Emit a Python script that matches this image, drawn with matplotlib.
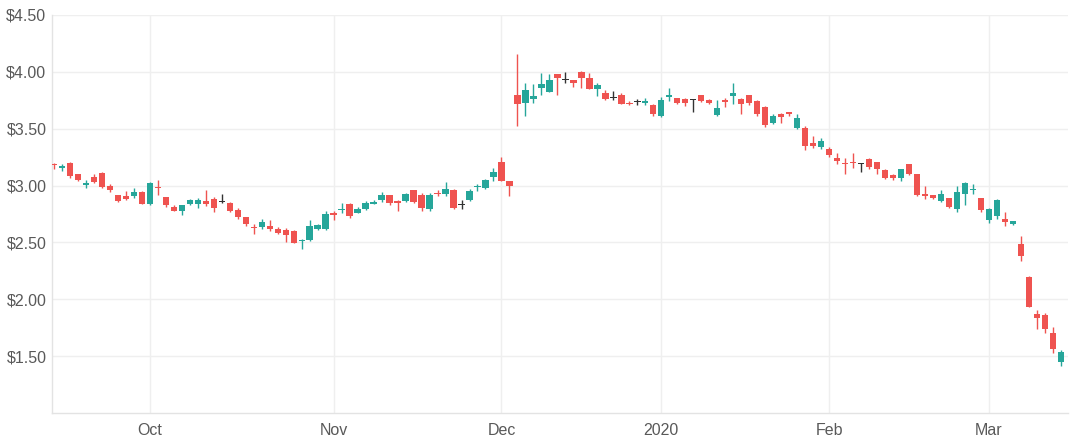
import matplotlib
matplotlib.use("Agg")
import matplotlib.pyplot as plt
import numpy as np

opens = [3.19, 3.155, 3.20, 3.10, 3.005, 3.075, 3.11, 3.00, 2.92, 2.905,
         2.905, 2.94, 2.84, 2.99, 2.90, 2.81, 2.775, 2.835, 2.835, 2.86,
         2.88, 2.857, 2.85, 2.785, 2.72, 2.635, 2.637, 2.648, 2.62, 2.605,
         2.60, 2.51, 2.52, 2.615, 2.62, 2.763, 2.783, 2.84, 2.76, 2.79,
         2.842, 2.872, 2.915, 2.862, 2.862, 2.959, 2.92, 2.79, 2.935, 2.927,
         2.965, 2.833, 2.871, 2.986, 2.98, 3.074, 3.206, 3.04, 3.797, 3.73,
         3.76, 3.862, 3.827, 3.98, 3.935, 3.927, 4.0, 3.95, 3.853, 3.818,
         3.774, 3.794, 3.73, 3.738, 3.73, 3.706, 3.613, 3.783, 3.768, 3.765,
         3.76, 3.798, 3.75, 3.621, 3.75, 3.79, 3.76, 3.798, 3.745, 3.695,
         3.554, 3.627, 3.648, 3.51, 3.51, 3.377, 3.342, 3.324, 3.245, 3.201,
         3.207, 3.196, 3.236, 3.21, 3.136, 3.09, 3.07, 3.186, 3.098, 2.93,
         2.913, 2.863, 2.892, 2.795, 2.922, 2.957, 2.892, 2.695, 2.736, 2.707,
         2.666, 2.49, 2.195, 1.872, 1.863, 1.70, 1.452]
highs = [3.20, 3.186, 3.206, 3.106, 3.053, 3.106, 3.115, 3.01, 2.921, 2.95,
         2.98, 2.95, 3.03, 3.05, 2.90, 2.825, 2.833, 2.88, 2.892, 2.96,
         2.90, 2.93, 2.857, 2.80, 2.722, 2.66, 2.705, 2.70, 2.636, 2.63,
         2.605, 2.53, 2.70, 2.665, 2.775, 2.775, 2.85, 2.848, 2.81, 2.862,
         2.877, 2.94, 2.92, 2.877, 2.936, 2.965, 2.935, 2.935, 2.965, 3.03,
         2.97, 2.871, 2.97, 3.01, 3.06, 3.156, 3.25, 3.04, 4.156, 3.906,
         3.89, 3.994, 3.98, 3.98, 4.0, 3.927, 4.009, 3.994, 3.906, 3.838,
         3.832, 3.818, 3.745, 3.765, 3.774, 3.715, 3.78, 3.856, 3.774, 3.774,
         3.765, 3.80, 3.76, 3.75, 3.768, 3.906, 3.768, 3.80, 3.75, 3.70,
         3.627, 3.642, 3.651, 3.633, 3.524, 3.436, 3.42, 3.339, 3.283, 3.245,
         3.283, 3.20, 3.245, 3.21, 3.148, 3.098, 3.148, 3.186, 3.098, 2.995,
         2.92, 2.96, 2.892, 3.0, 3.03, 3.01, 2.892, 2.80, 2.883, 2.766,
         2.69, 2.554, 2.207, 1.907, 1.878, 1.76, 1.555]
lows = [3.15, 3.127, 3.068, 3.04, 2.98, 3.024, 2.98, 2.94, 2.855, 2.877,
        2.89, 2.838, 2.83, 2.92, 2.81, 2.774, 2.74, 2.833, 2.80, 2.82,
        2.77, 2.85, 2.766, 2.71, 2.648, 2.57, 2.62, 2.60, 2.57, 2.50,
        2.495, 2.44, 2.51, 2.61, 2.613, 2.70, 2.76, 2.715, 2.755, 2.785,
        2.835, 2.853, 2.833, 2.775, 2.856, 2.848, 2.775, 2.775, 2.906, 2.906,
        2.795, 2.795, 2.862, 2.95, 2.97, 3.04, 3.04, 2.91, 3.52, 3.61,
        3.73, 3.794, 3.827, 3.80, 3.906, 3.871, 3.862, 3.847, 3.788, 3.753,
        3.753, 3.715, 3.706, 3.706, 3.706, 3.612, 3.607, 3.745, 3.72, 3.70,
        3.65, 3.739, 3.715, 3.613, 3.692, 3.72, 3.633, 3.71, 3.613, 3.518,
        3.545, 3.554, 3.613, 3.50, 3.31, 3.333, 3.324, 3.254, 3.186, 3.10,
        3.157, 3.12, 3.148, 3.098, 3.06, 3.05, 3.04, 3.09, 2.907, 2.878,
        2.878, 2.854, 2.804, 2.766, 2.825, 2.93, 2.766, 2.672, 2.707, 2.648,
        2.655, 2.334, 1.931, 1.737, 1.70, 1.53, 1.41]
closes = [3.185, 3.17, 3.08, 3.05, 3.02, 3.035, 2.99, 2.96, 2.865, 2.885,
          2.94, 2.84, 3.02, 2.975, 2.83, 2.775, 2.83, 2.87, 2.875, 2.84,
          2.805, 2.857, 2.775, 2.725, 2.66, 2.63, 2.677, 2.62, 2.585, 2.565,
          2.495, 2.525, 2.648, 2.657, 2.75, 2.738, 2.798, 2.73, 2.795, 2.848,
          2.857, 2.92, 2.848, 2.848, 2.93, 2.856, 2.80, 2.92, 2.922, 2.97,
          2.805, 2.833, 2.95, 3.0, 3.053, 3.118, 3.04, 2.995, 3.715, 3.841,
          3.788, 3.891, 3.927, 3.942, 3.935, 3.906, 3.944, 3.853, 3.885, 3.76,
          3.774, 3.72, 3.716, 3.738, 3.744, 3.633, 3.75, 3.798, 3.73, 3.73,
          3.76, 3.74, 3.73, 3.686, 3.736, 3.818, 3.716, 3.722, 3.627, 3.533,
          3.613, 3.607, 3.627, 3.598, 3.348, 3.348, 3.392, 3.266, 3.216, 3.19,
          3.195, 3.196, 3.166, 3.142, 3.07, 3.07, 3.142, 3.098, 2.916, 2.907,
          2.895, 2.922, 2.813, 2.94, 3.025, 2.966, 2.784, 2.79, 2.872, 2.68,
          2.686, 2.384, 1.931, 1.834, 1.737, 1.56, 1.54]

month_tick_index = [12, 35, 56, 76, 97, 117]
month_tick_labels = ["Oct", "Nov", "Dec", "2020", "Feb", "Mar"]
price_ticks = [1.5, 2.0, 2.5, 3.0, 3.5, 4.0, 4.5]

UP = "#26a69a"
DOWN = "#ef5350"
FLAT = "#333333"
TXT = "#595959"

plt.rcParams["font.family"] = ["Liberation Sans", "DejaVu Sans"]

fig = plt.figure(figsize=(10.8, 4.47), dpi=100)
ax = fig.add_axes([52 / 1080, 1 - 413 / 447, (1068 - 52) / 1080, (413 - 15) / 447])

o = np.array(opens)
h = np.array(highs)
l = np.array(lows)
c = np.array(closes)
x = np.arange(len(o))

colors = [UP if cc > oo else (DOWN if cc < oo else FLAT) for oo, cc in zip(o, c)]

ax.vlines(x, l, h, colors=colors, linewidth=1.0, zorder=2)
body_low = np.minimum(o, c)
body_h = np.abs(c - o)
min_h = 0.009
adj_low = np.where(body_h < min_h, (o + c) / 2 - min_h / 2, body_low)
adj_h = np.maximum(body_h, min_h)
ax.bar(x, adj_h, bottom=adj_low, width=0.8, color=colors, edgecolor="none",
       linewidth=0, zorder=3)

ax.set_xlim(-0.25, 126.9)
ax.set_ylim(1.0, 4.5)

ax.set_xticks(month_tick_index)
ax.set_xticklabels(month_tick_labels)
ax.set_yticks(price_ticks)
ax.set_yticklabels([f"${v:.2f}" for v in price_ticks])

ax.tick_params(axis="both", length=0, colors=TXT, labelsize=11.5)
ax.tick_params(axis="x", pad=7)
ax.tick_params(axis="y", pad=4)

ax.grid(True, color="#efefef", linewidth=1.0, zorder=0)
ax.set_axisbelow(True)
for side in ["top", "right"]:
    ax.spines[side].set_visible(False)
for side in ["left", "bottom"]:
    ax.spines[side].set_color("#e3e3e3")
    ax.spines[side].set_linewidth(1.0)

fig.savefig("out.png", dpi=100)
